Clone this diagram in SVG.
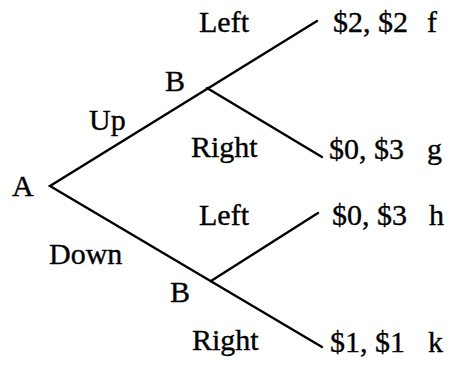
<svg xmlns="http://www.w3.org/2000/svg" width="454" height="369" viewBox="0 0 454 369">
<style>
text{font-family:"Liberation Serif","Times New Roman",serif;font-size:30px;fill:#000;stroke:#000;stroke-width:0.35}
.e{stroke:#000;stroke-width:2.4;fill:none;stroke-linecap:round}
</style>
<rect width="454" height="369" fill="#fff"/>
<g id="connectors">
<path class="e" d="M317,21 L50,186 L322,347"/>
<path class="e" d="M207,88 L322,157"/>
<path class="e" d="M211,281 L318,213"/>
</g>
<g id="nodeA"><text x="12" y="196">A</text></g>
<g id="nodeB1"><text x="165" y="91">B</text></g>
<g id="nodeB2"><text x="170" y="302">B</text></g>
<g id="labels">
<text x="199" y="32">Left</text>
<text x="89" y="130">Up</text>
<text x="191" y="157">Right</text>
<text x="199" y="225">Left</text>
<text x="49" y="264">Down</text>
<text x="192" y="350">Right</text>
</g>
<g id="payoffs">
<text x="333" y="32">$2, $2</text><text x="427" y="32">f</text>
<text x="329" y="159">$0, $3</text><text x="427" y="159">g</text>
<text x="332" y="225">$0, $3</text><text x="429" y="225">h</text>
<text x="330" y="352">$1, $1</text><text x="428" y="352">k</text>
</g>
</svg>
